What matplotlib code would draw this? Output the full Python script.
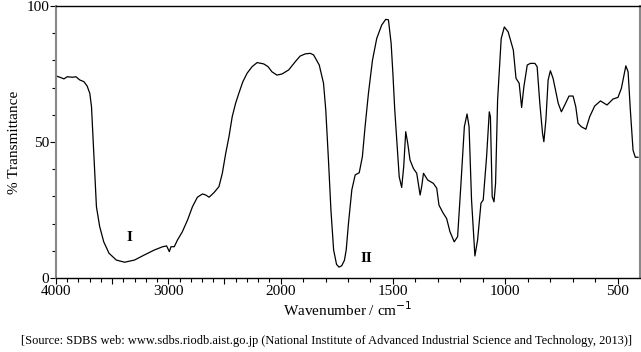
import numpy as np
import matplotlib
matplotlib.use('Agg')
import matplotlib.pyplot as plt
from matplotlib.ticker import MultipleLocator, FixedLocator

plt.rcParams['font.family'] = ['Liberation Serif', 'DejaVu Serif']

# IR spectrum: wavenumber (cm-1) and % transmittance
wavenumber = [4000, 3965, 3929, 3900, 3852, 3823, 3788, 3752, 3723, 3699, 3684,
              3675, 3664, 3652, 3640, 3611, 3575, 3528, 3463, 3389, 3301, 3212,
              3124, 3050, 3015, 2991, 2976, 2947, 2918, 2875, 2829, 2785, 2741,
              2696, 2666, 2637, 2593, 2549, 2519, 2489, 2460, 2431, 2401, 2372,
              2336, 2298, 2254, 2209, 2150, 2112, 2077, 2033,
              1994, 1964, 1935, 1913, 1890, 1868, 1853, 1828, 1809, 1799, 1787,
              1776, 1764, 1751, 1740, 1728, 1716, 1708, 1698, 1683, 1668, 1650,
              1636, 1624, 1609, 1591, 1572, 1550, 1532, 1520, 1508, 1500, 1492,
              1483, 1472, 1461, 1452, 1443, 1434, 1424, 1409, 1394, 1379, 1372,
              1364, 1345, 1320, 1305, 1295, 1276, 1261, 1246, 1227, 1212, 1197,
              1182, 1170, 1161, 1150, 1135, 1123, 1108, 1098, 1083, 1071, 1066,
              1058, 1050, 1043, 1034, 1018, 1004, 987, 964, 952, 938, 927, 917,
              902, 888, 868, 858, 846, 834, 828, 819, 809, 799, 787, 764, 750,
              735, 716, 698, 686, 676, 661, 641, 624, 602, 576, 547, 520, 498,
              483, 463, 453, 443, 431, 421, 409]
transmittance = [74.3, 73.8, 73.2, 74, 73.8, 74, 72.8, 72.2, 70.6, 67.9, 63,
                 55.6, 45.8, 36, 26.2, 18.9, 13.3, 9.1, 6.6, 5.8, 6.6, 8.5,
                 10.3, 11.5, 11.8, 9.7, 11.5, 11.5, 14, 17, 21.3, 26.2, 29.7,
                 30.9, 30.5, 29.7, 31.4, 33.6, 38.5, 45.8, 51.9, 59.3, 64.2, 67.9,
                 72.2, 75.3, 77.7, 79.2, 78.7, 77.7, 75.8, 74.6,
                 75, 76.5, 79.5, 81.6, 82.4, 82.6, 82, 78.3, 71.6, 61.8, 43.4,
                 25, 10.3, 5, 4, 4.5, 6.5, 10.3, 20, 32.4, 37.9, 38.7,
                 44.6, 55.6, 67.9, 80.1, 88.1, 93, 95.1, 94.9, 86.3, 75, 62,
                 50.7, 37.2, 33.3, 40.9, 53.8, 49.5, 43.4, 40.3, 38.5, 30.5, 33.6,
                 38.5, 36, 34.8, 33, 26.8, 23.8, 21.9, 17, 13.3, 15.2, 34.8,
                 55.6, 60.3, 55.6, 28.7, 8.1, 14, 27.5, 28.7, 44.6, 61.1, 59.3,
                 29.9, 28, 34.8, 65.4, 88, 92.3, 90.5, 83.8, 73.4, 71.6, 62.7, 70.3,
                 78.3, 78.9, 78.9, 77.7, 64.2, 53.2, 50.1, 58.1, 72.8, 76.2, 73.4, 64.2, 61.1,
                 63.6, 66.9, 66.9, 63, 56.9, 55.6, 54.7, 59.3, 63.2, 65.1, 63.6, 65.8, 66.4,
                 69.7, 78, 75.8, 61.8, 47, 44.4, 44.4]

major_ticks = [4000, 3000, 2000, 1500, 1000, 500]
mid_ticks = [3500, 2500]
minor_ticks = list(range(4000, 2000, -100)) + list(range(2000, 400, -100))


# x axis is compressed by 2 above 2000 cm-1
def forward(w):
    w = np.asarray(w, dtype=float)
    return np.where(w > 2000, 2000 + (w - 2000) / 2, w)


def inverse(u):
    u = np.asarray(u, dtype=float)
    return np.where(u > 2000, 2000 + (u - 2000) * 2, u)


fig = plt.figure(figsize=(6.41, 3.52), dpi=100)
ax = fig.add_axes([56 / 641, 1 - 278 / 352, 584 / 641, 272 / 352])
ax.set_xscale('function', functions=(forward, inverse))
ax.plot(wavenumber, transmittance, color='black', lw=0.9)
ax.set_xlim(4000, 400)
ax.set_ylim(0, 100)

ax.xaxis.set_major_locator(FixedLocator(major_ticks + mid_ticks))
ax.set_xticklabels([str(t) for t in major_ticks] + ['', ''])
ax.xaxis.set_minor_locator(FixedLocator(minor_ticks))
ax.yaxis.set_major_locator(MultipleLocator(50))
ax.yaxis.set_minor_locator(MultipleLocator(10))
ax.tick_params(axis='both', which='major', length=4, width=0.8, labelsize=11, pad=1)
ax.tick_params(axis='both', which='minor', length=3, width=0.8)

for side in ['left', 'right']:
    ax.spines[side].set_color('#888888')
    ax.spines[side].set_linewidth(1.5)
for side in ['top', 'bottom']:
    ax.spines[side].set_linewidth(1.0)

ax.set_ylabel('% Transmittance', fontsize=11, labelpad=4)
ax.set_xlabel('Wavenumber / cm$^{-1}$', fontsize=11, labelpad=2)

ax.text(3350, 15, 'I', fontsize=11, fontweight='bold', ha='center', va='center')
ax.text(1620, 7, 'II', fontsize=11, fontweight='bold', ha='center', va='center')

fig.text(0.5 + 6 / 641, 1 - 341 / 352, '[Source: SDBS web: www.sdbs.riodb.aist.go.jp (National Institute of '
         'Advanced Industrial Science and Technology, 2013)]', fontsize=8.9, ha='center', va='center')

fig.savefig('out.png', dpi=100)
